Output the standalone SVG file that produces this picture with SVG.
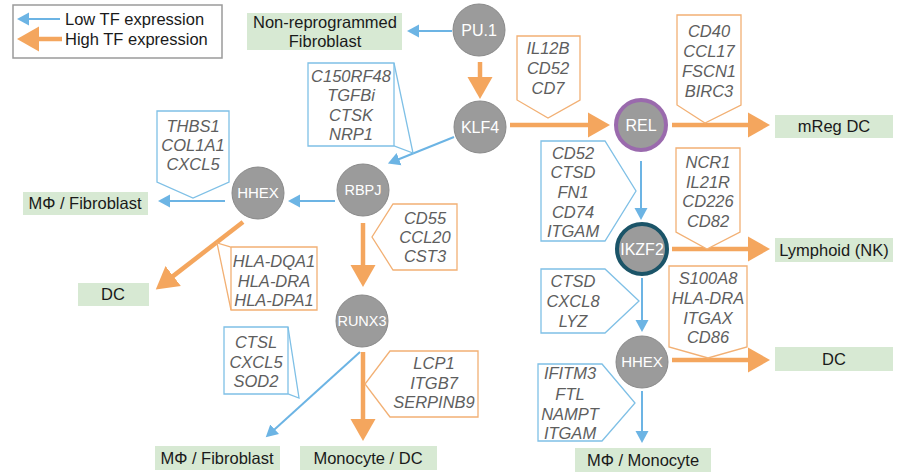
<svg xmlns="http://www.w3.org/2000/svg" width="900" height="473" viewBox="0 0 900 473">
<style>
.lbl{font-family:"Liberation Sans",Arial,sans-serif;font-size:16.5px;fill:#1a1a1a;text-anchor:middle}
.leg{font-family:"Liberation Sans",Arial,sans-serif;font-size:16.5px;fill:#1a1a1a}
.gene{font-family:"Liberation Sans",Arial,sans-serif;font-size:16.5px;font-style:italic;fill:#5e5e5e;text-anchor:middle}
.nt{font-family:"Liberation Sans",Arial,sans-serif;font-size:16px;fill:#ffffff;text-anchor:middle}
.node{fill:#9b9b9b;stroke:#8a8a8a;stroke-width:1}
.box{fill:#d7e9d3}
.cb{fill:#ffffff;stroke:#7fc0e6;stroke-width:1.3}
.co{fill:#ffffff;stroke:#f2b074;stroke-width:1.3}
.lb{stroke:#6cb4e4;stroke-width:2;fill:none;marker-end:url(#hb)}
.lo{stroke:#f4a65e;stroke-width:4.5;fill:none;marker-end:url(#ho)}
</style>
<defs>
<marker id="hb" viewBox="0 -7 13 14" markerWidth="13" markerHeight="14" refX="1" refY="0" orient="auto" markerUnits="userSpaceOnUse"><path d="M0,-6.5 L12,0 L0,6.5 z" fill="#6cb4e4"/></marker>
<marker id="ho" viewBox="0 -13 23 26" markerWidth="23" markerHeight="26" refX="1" refY="0" orient="auto" markerUnits="userSpaceOnUse"><path d="M0,-12.5 L22,0 L0,12.5 z" fill="#f4a65e"/></marker>
</defs>
<rect width="900" height="473" fill="#ffffff"/>

<g id="legend">
<rect x="13" y="5" width="209" height="53" fill="#ffffff" stroke="#9a9a9a" stroke-width="1.5"/>
<line x1="60" y1="19" x2="28" y2="19" class="lb"/>
<line x1="62" y1="39" x2="38" y2="39" class="lo"/>
<text x="65" y="25" class="leg">Low TF expression</text>
<text x="65" y="45" class="leg">High TF expression</text>
</g>

<g id="connectors">
<line x1="452" y1="31" x2="418" y2="31" class="lb"/>
<line x1="480" y1="62" x2="480" y2="78" class="lo"/>
<line x1="510" y1="125" x2="589" y2="125" class="lo"/>
<line x1="672" y1="125" x2="749" y2="125" class="lo"/>
<line x1="454" y1="137" x2="398.1" y2="159.5" class="lb"/>
<line x1="335" y1="201" x2="299" y2="201" class="lb"/>
<line x1="225" y1="201" x2="169" y2="201" class="lb"/>
<line x1="243" y1="222" x2="172.4" y2="276.6" class="lo"/>
<line x1="363" y1="223" x2="363" y2="266" class="lo"/>
<line x1="360" y1="352" x2="273.9" y2="429.9" class="lb"/>
<line x1="363" y1="352" x2="363" y2="420" class="lo"/>
<line x1="641" y1="161" x2="641" y2="209" class="lb"/>
<line x1="672" y1="249" x2="749" y2="249" class="lo"/>
<line x1="642" y1="278" x2="642" y2="321" class="lb"/>
<line x1="672" y1="360" x2="749" y2="360" class="lo"/>
<line x1="642" y1="391" x2="642" y2="432" class="lb"/>
</g>

<g id="callout-il12b">
<path d="M517,36 L580,36 L580,100 L548,118 L517,100 Z" class="co"/>
<text x="548" y="54" class="gene">IL12B</text>
<text x="548" y="74" class="gene">CD52</text>
<text x="548" y="94" class="gene">CD7</text>
</g>
<g id="callout-cd40">
<path d="M677,15 L741,15 L741,105 L705,123 L677,105 Z" class="co"/>
<text x="709" y="37" class="gene">CD40</text>
<text x="709" y="57" class="gene">CCL17</text>
<text x="709" y="77" class="gene">FSCN1</text>
<text x="709" y="97" class="gene">BIRC3</text>
</g>
<g id="callout-c150">
<path d="M308,63 L394,63 L413,153 L394,146 L308,146 Z" class="cb"/>
<line x1="394" y1="63" x2="394" y2="146" stroke="#7fc0e6" stroke-width="1.3"/>
<text x="351" y="82" class="gene">C150RF48</text>
<text x="351" y="101" class="gene">TGFBi</text>
<text x="351" y="121" class="gene">CTSK</text>
<text x="351" y="140" class="gene">NRP1</text>
</g>
<g id="callout-thbs1">
<path d="M157,111 L229,111 L229,182 L193,198 L157,182 Z" class="cb"/>
<text x="193" y="132" class="gene">THBS1</text>
<text x="193" y="151" class="gene">COL1A1</text>
<text x="193" y="170" class="gene">CXCL5</text>
</g>
<g id="callout-hla">
<path d="M231,247 L317,247 L317,310 L231,310 L217,243 Z" class="co"/>
<line x1="231" y1="247" x2="231" y2="310" stroke="#f2b074" stroke-width="1.3"/>
<text x="274" y="267" class="gene">HLA-DQA1</text>
<text x="274" y="287" class="gene">HLA-DRA</text>
<text x="274" y="306" class="gene">HLA-DPA1</text>
</g>
<g id="callout-cd55">
<path d="M393,204 L457,204 L457,270 L393,270 L372,237 Z" class="co"/>
<text x="425" y="224" class="gene">CD55</text>
<text x="425" y="243" class="gene">CCL20</text>
<text x="425" y="262" class="gene">CST3</text>
</g>
<g id="callout-ctsl">
<path d="M224,327 L288,327 L299,398 L288,394 L224,394 Z" class="cb"/>
<line x1="288" y1="327" x2="288" y2="394" stroke="#7fc0e6" stroke-width="1.3"/>
<text x="256" y="348" class="gene">CTSL</text>
<text x="256" y="368" class="gene">CXCL5</text>
<text x="256" y="387" class="gene">SOD2</text>
</g>
<g id="callout-lcp1">
<path d="M390,351 L478,351 L478,417 L390,417 L365,384 Z" class="co"/>
<text x="434" y="369" class="gene">LCP1</text>
<text x="434" y="389" class="gene">ITGB7</text>
<text x="434" y="408" class="gene">SERPINB9</text>
</g>
<g id="callout-cd52">
<path d="M541,141 L605,141 L636,191 L605,241 L541,241 Z" class="cb"/>
<text x="573" y="159" class="gene">CD52</text>
<text x="573" y="178" class="gene">CTSD</text>
<text x="573" y="198" class="gene">FN1</text>
<text x="573" y="218" class="gene">CD74</text>
<text x="573" y="237" class="gene">ITGAM</text>
</g>
<g id="callout-ncr1">
<path d="M676,148 L740,148 L740,232 L707,249 L676,232 Z" class="co"/>
<text x="708" y="168" class="gene">NCR1</text>
<text x="708" y="188" class="gene">IL21R</text>
<text x="708" y="207" class="gene">CD226</text>
<text x="708" y="227" class="gene">CD82</text>
</g>
<g id="callout-ctsd">
<path d="M541,269 L605,269 L639,301 L605,333 L541,333 Z" class="cb"/>
<text x="573" y="287" class="gene">CTSD</text>
<text x="573" y="307" class="gene">CXCL8</text>
<text x="573" y="327" class="gene">LYZ</text>
</g>
<g id="callout-s100a8">
<path d="M669,266 L747,266 L747,347 L708,358 L669,347 Z" class="co"/>
<text x="708" y="284" class="gene">S100A8</text>
<text x="708" y="304" class="gene">HLA-DRA</text>
<text x="708" y="324" class="gene">ITGAX</text>
<text x="708" y="343" class="gene">CD86</text>
</g>
<g id="callout-ifitm3">
<path d="M538,364 L602,364 L635,403 L602,441 L538,441 Z" class="cb"/>
<text x="570" y="379" class="gene">IFITM3</text>
<text x="570" y="400" class="gene">FTL</text>
<text x="570" y="420" class="gene">NAMPT</text>
<text x="570" y="439" class="gene">ITGAM</text>
</g>

<g id="node-pu1"><circle cx="479" cy="30" r="26" class="node"/><text x="479" y="36" class="nt">PU.1</text></g>
<g id="node-klf4"><circle cx="480" cy="127" r="26" class="node"/><text x="480" y="133" class="nt">KLF4</text></g>
<g id="node-rel"><circle cx="641" cy="125" r="25" fill="#9b9b9b" stroke="#9a6aad" stroke-width="4"/><text x="641" y="131" class="nt">REL</text></g>
<g id="node-rbpj"><circle cx="363" cy="190" r="26" class="node"/><text x="363" y="195" class="nt" style="font-size:14.5px">RBPJ</text></g>
<g id="node-hhex1"><circle cx="258" cy="193" r="26" class="node"/><text x="258" y="198" class="nt" style="font-size:15px">HHEX</text></g>
<g id="node-runx3"><circle cx="362" cy="321" r="26" class="node"/><text x="362" y="326" class="nt" style="font-size:14.5px">RUNX3</text></g>
<g id="node-ikzf2"><circle cx="642" cy="249" r="25" fill="#9b9b9b" stroke="#1b5468" stroke-width="4"/><text x="642" y="255" class="nt">IKZF2</text></g>
<g id="node-hhex2"><circle cx="642" cy="362" r="26" class="node"/><text x="642" y="367" class="nt" style="font-size:15px">HHEX</text></g>

<g id="target-nonrepro"><rect x="247" y="13" width="155" height="37" class="box"/><text x="325" y="28" class="lbl">Non-reprogrammed</text><text x="325" y="47" class="lbl">Fibroblast</text></g>
<g id="target-mreg"><rect x="775" y="115" width="118" height="23" class="box"/><text x="834" y="132" class="lbl">mReg DC</text></g>
<g id="target-mfib1"><rect x="23" y="192" width="125" height="23" class="box"/><text x="85" y="209" class="lbl">MΦ / Fibroblast</text></g>
<g id="target-dc1"><rect x="78" y="283" width="71" height="23" class="box"/><text x="113" y="300" class="lbl">DC</text></g>
<g id="target-lymph"><rect x="775" y="238" width="118" height="24" class="box"/><text x="834" y="256" class="lbl">Lymphoid (NK)</text></g>
<g id="target-dc2"><rect x="775" y="347" width="118" height="24" class="box"/><text x="834" y="365" class="lbl">DC</text></g>
<g id="target-mmono"><rect x="575" y="448" width="136" height="24" class="box"/><text x="643" y="466" class="lbl">MΦ / Monocyte</text></g>
<g id="target-mfib2"><rect x="155" y="446" width="125" height="24" class="box"/><text x="217" y="464" class="lbl">MΦ / Fibroblast</text></g>
<g id="target-monodc"><rect x="300" y="446" width="137" height="24" class="box"/><text x="368" y="464" class="lbl">Monocyte / DC</text></g>
</svg>
